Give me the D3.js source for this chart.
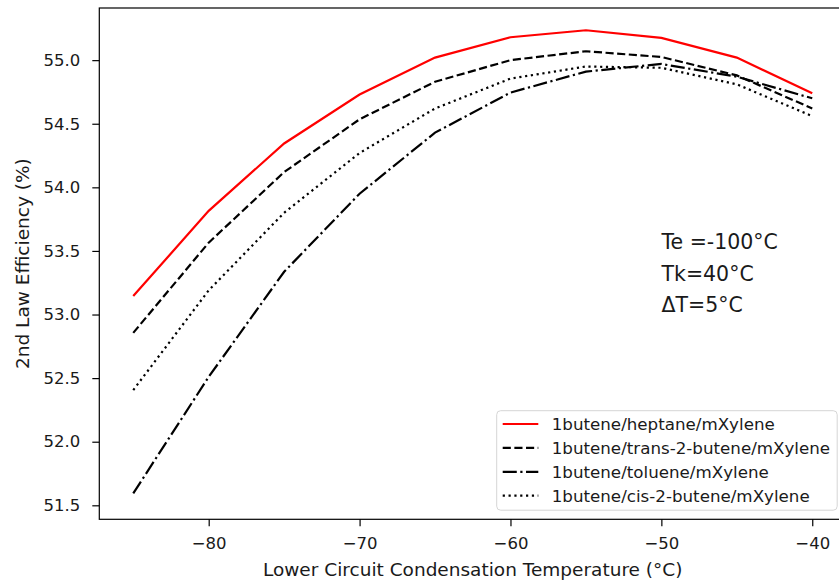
<!DOCTYPE html>
<html>
<head>
<meta charset="utf-8">
<script src="https://cdn.jsdelivr.net/npm/d3@7"></script>
<style>
  body { margin: 0; background: #fff; }
  text { font-family: 'DejaVu Sans', sans-serif; fill: #1a1a1a; }
</style>
</head>
<body>
<div id="chart-area"></div>
<script>
// Lower circuit condensation temperature (°C)
var temps = [-85, -80, -75, -70, -65, -60, -55, -50, -45, -40];

// 2nd law efficiency (%) for each refrigerant mixture
var heptane = [53.145, 53.815, 54.345, 54.73, 55.02, 55.18, 55.235, 55.175, 55.02, 54.74];
var trans2butene = [52.856, 53.565, 54.12, 54.535, 54.83, 55.0, 55.07, 55.025, 54.88, 54.62];
var toluene = [51.594, 52.51, 53.336, 53.95, 54.43, 54.745, 54.91, 54.97, 54.87, 54.70];
var cis2butene = [52.406, 53.19, 53.80, 54.27, 54.62, 54.855, 54.95, 54.94, 54.81, 54.56];

var seriesNames = [
  '1butene/heptane/mXylene',
  '1butene/trans-2-butene/mXylene',
  '1butene/toluene/mXylene',
  '1butene/cis-2-butene/mXylene'
];

var xTicks = [-80, -70, -60, -50, -40];
var yTicks = [51.5, 52.0, 52.5, 53.0, 53.5, 54.0, 54.5, 55.0];
var notes = ['Te =-100°C', 'Tk=40°C', 'ΔT=5°C'];

var svgWidth = 839;
var svgHeight = 584;
var margin = { left: 99.3, right: -7.2, top: 8, bottom: 64.7 };
var width = svgWidth - margin.left - margin.right;
var height = svgHeight - margin.top - margin.bottom;
var lw = 2.2;

var series = [
  { name: seriesNames[0], values: heptane, color: 'red', dash: null },
  { name: seriesNames[1], values: trans2butene, color: 'black', dash: [3.7 * lw, 1.6 * lw] },
  { name: seriesNames[2], values: toluene, color: 'black', dash: [6.4 * lw, 1.6 * lw, 1 * lw, 1.6 * lw] },
  { name: seriesNames[3], values: cis2butene, color: 'black', dash: [1 * lw, 1.65 * lw] }
];

var svg = d3.select('#chart-area')
  .append('svg')
  .attr('width', svgWidth)
  .attr('height', svgHeight);

svg.append('rect')
  .attr('width', svgWidth)
  .attr('height', svgHeight)
  .attr('fill', '#fff');

var g = svg.append('g')
  .attr('transform', 'translate(' + margin.left + ', ' + margin.top + ')');

// X Scale (5% padding either side of the data)
var x = d3.scaleLinear()
  .domain([-87.25, -37.75])
  .range([0, width]);

// Y Scale
var y = d3.scaleLinear()
  .domain([51.39, 55.41])
  .range([height, 0]);

// lines
var line = d3.line()
  .x(function(d, i) { return x(temps[i]); })
  .y(function(d) { return y(d); });

g.selectAll('path.series')
  .data(series)
  .enter()
  .append('path')
    .attr('class', 'series')
    .attr('d', function(d) { return line(d.values); })
    .attr('fill', 'none')
    .attr('stroke', function(d) { return d.color; })
    .attr('stroke-width', lw)
    .attr('stroke-dasharray', function(d) { return d.dash ? d.dash.join(',') : null; });

// frame
g.append('rect')
  .attr('width', width)
  .attr('height', height)
  .attr('fill', 'none')
  .attr('stroke', '#000')
  .attr('stroke-width', 1.2);

// X Axis
var xAxisCall = d3.axisBottom(x)
  .tickValues(xTicks)
  .tickFormat(d3.format('d'))
  .tickSize(7)
  .tickPadding(11);
var xAxis = g.append('g')
  .attr('class', 'x axis')
  .attr('transform', 'translate(0, ' + height + ')')
  .call(xAxisCall);

// Y Axis
var yAxisCall = d3.axisLeft(y)
  .tickValues(yTicks)
  .tickFormat(d3.format('.1f'))
  .tickSize(7)
  .tickPadding(12);
var yAxis = g.append('g')
  .attr('class', 'y axis')
  .call(yAxisCall);

g.selectAll('.axis .domain').remove();
g.selectAll('.axis line').attr('stroke', '#000').attr('stroke-width', 1.2);
g.selectAll('.axis text')
  .attr('font-size', '16.5px')
  .attr('font-family', "'DejaVu Sans', sans-serif")
  .attr('fill', '#1a1a1a');

// X Label
g.append('text')
  .attr('x', 472.7 - margin.left)
  .attr('y', 576 - margin.top)
  .attr('font-size', '18.5px')
  .attr('text-anchor', 'middle')
  .text('Lower Circuit Condensation Temperature (°C)');

// Y Label
g.append('text')
  .attr('x', -height / 2)
  .attr('y', 29 - margin.left)
  .attr('font-size', '18.5px')
  .attr('text-anchor', 'middle')
  .attr('transform', 'rotate(-90)')
  .text('2nd Law Efficiency (%)');

// operating conditions
g.selectAll('text.note')
  .data(notes)
  .enter()
  .append('text')
    .attr('class', 'note')
    .attr('x', 661.5 - margin.left)
    .attr('y', function(d, i) { return 249 + i * 31.7 - margin.top; })
    .attr('font-size', '20.5px')
    .text(function(d) { return d; });

// Legend
var legend = g.append('g')
  .attr('transform', 'translate(' + (496.7 - margin.left) + ', ' + (410.7 - margin.top) + ')');

legend.append('rect')
  .attr('width', 340.5)
  .attr('height', 99.5)
  .attr('rx', 4)
  .attr('fill', 'rgba(255,255,255,0.8)')
  .attr('stroke', '#d6d6d6')
  .attr('stroke-width', 1);

var rows = legend.selectAll('g.row')
  .data(series)
  .enter()
  .append('g')
    .attr('class', 'row')
    .attr('transform', function(d, i) { return 'translate(0, ' + (13.3 + i * 23.9) + ')'; });

rows.append('line')
  .attr('x1', 6)
  .attr('x2', 41.6)
  .attr('stroke', function(d) { return d.color; })
  .attr('stroke-width', lw)
  .attr('stroke-dasharray', function(d) { return d.dash ? d.dash.join(',') : null; });

rows.append('text')
  .attr('x', 55)
  .attr('dy', '0.36em')
  .attr('font-size', '16.7px')
  .text(function(d) { return d.name; });
</script>
</body>
</html>
